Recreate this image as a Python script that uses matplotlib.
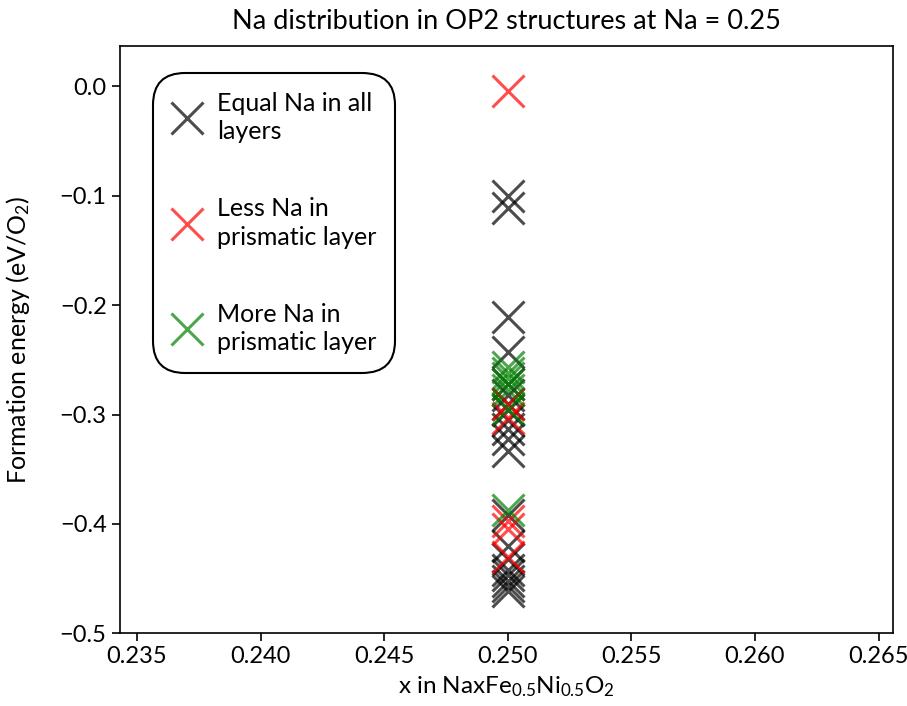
import numpy as np
import matplotlib
matplotlib.use("Agg")
import matplotlib.pyplot as plt

FONT = "Lato"

# formation energies (eV/O2) of the OP2 configurations at x = 0.25
x_na = 0.25
equal_e = [-0.100, -0.111, -0.211, -0.243, -0.272, -0.282, -0.290, -0.296,
           -0.305, -0.313, -0.322, -0.333, -0.392, -0.420, -0.432, -0.442,
           -0.447, -0.452, -0.457, -0.461]
less_e = [-0.004, -0.290, -0.303, -0.397, -0.405, -0.430]
more_e = [-0.257, -0.262, -0.267, -0.272, -0.278, -0.295, -0.387]

labels = ["Equal Na in all\nlayers", "Less Na in\nprismatic layer", "More Na in\nprismatic layer"]
colors = ["black", "red", "green"]

plt.rcParams["font.family"] = [FONT, "DejaVu Sans"]
plt.rcParams["mathtext.fontset"] = "custom"
plt.rcParams["mathtext.rm"] = FONT
plt.rcParams["mathtext.it"] = FONT + ":italic"

fig, ax = plt.subplots(figsize=(9.07, 7.06), dpi=100)
fig.subplots_adjust(left=0.132, right=0.985, top=0.935, bottom=0.103)

for energies, c, lab in zip([equal_e, less_e, more_e], colors, labels):
    ax.plot([x_na] * len(energies), energies, linestyle="none", marker="x",
            markersize=23, markeredgewidth=2.2, color=c, alpha=0.7, label=lab)

ax.set_xlim(0.2343, 0.2656)
ax.set_ylim(-0.5, 0.037)
ax.set_xticks([0.235, 0.240, 0.245, 0.250, 0.255, 0.260, 0.265])
ax.set_yticks([0.0, -0.1, -0.2, -0.3, -0.4, -0.5])
ax.xaxis.set_major_formatter(matplotlib.ticker.FormatStrFormatter("%.3f"))
ax.yaxis.set_major_formatter(matplotlib.ticker.FuncFormatter(lambda v, p: ("%.1f" % v).replace("-", "\u2212")))
ax.tick_params(labelsize=17, length=6, width=1.2)
for s in ax.spines.values():
    s.set_linewidth(1.2)

ax.set_xlabel(r"x in NaxFe$_{0.5}$Ni$_{0.5}$O$_2$", fontsize=17.5)
ax.set_ylabel(r"Formation energy (eV/O$_2$)", fontsize=18)
ax.xaxis.set_label_coords(0.5, -0.070)
ax.yaxis.set_label_coords(-0.113, 0.5)
ax.set_title("Na distribution in OP2 structures at Na = 0.25", fontsize=19.5, pad=12)

leg = ax.legend(loc="upper left", bbox_to_anchor=(0.043, 0.954), borderaxespad=0,
                fontsize=18, labelspacing=2.15, handlelength=1.2, handletextpad=0.6,
                borderpad=0.75, framealpha=1, edgecolor="black", fancybox=True)
leg.get_frame().set_linewidth(1.5)
leg.get_frame().set_boxstyle("round,pad=0,rounding_size=1.3")
for t in leg.get_texts():
    t.set_linespacing(1.3)

fig.savefig("out.png", dpi=100)
